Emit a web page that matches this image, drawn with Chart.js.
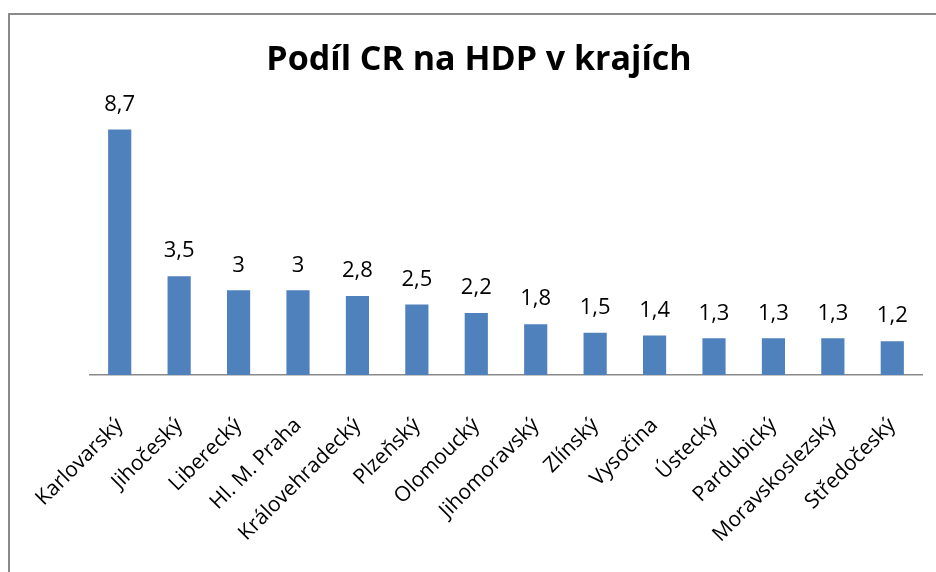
<!DOCTYPE html>
<html>
<head>
<meta charset="utf-8">
<script src="https://cdn.jsdelivr.net/npm/chart.js@4"></script>
<style>
  html, body { margin: 0; padding: 0; background: #fff; }
  #wrap { position: relative; width: 936px; height: 572px; overflow: hidden; }
  #frame { position: absolute; left: 8px; top: 13px; width: 960px; height: 600px;
           border-left: 2px solid #8a8a8a; border-top: 2px solid #8a8a8a; }
  canvas { position: absolute; left: 0; top: 0; }
</style>
</head>
<body>
<div id="wrap">
  <div id="frame"></div>
  <canvas id="bars" width="936" height="572"></canvas>
</div>
<script>
var regions = ["Karlovarský", "Jihočeský", "Liberecký", "Hl. M. Praha", "Královehradecký",
    "Plzeňský", "Olomoucký", "Jihomoravský", "Zlínský", "Vysočina", "Ústecký",
    "Pardubický", "Moravskoslezský", "Středočeský"];
var shares = [8.7, 3.5, 3, 3, 2.8, 2.5, 2.2, 1.8, 1.5, 1.4, 1.3, 1.3, 1.3, 1.2];
var chartTitle = "Podíl CR na HDP v krajích";

var fontFamily = "'Open Sans', 'Liberation Sans', sans-serif";

// value labels above bars, czech decimal comma
var valueLabels = {
    id: 'valueLabels',
    afterDatasetsDraw: function(chart) {
        var ctx = chart.ctx;
        var meta = chart.getDatasetMeta(0);
        ctx.save();
        ctx.font = '22px ' + fontFamily;
        ctx.fillStyle = '#000';
        ctx.textAlign = 'center';
        ctx.textBaseline = 'middle';
        meta.data.forEach(function(bar, i) {
            ctx.fillText(String(shares[i]).replace('.', ','), bar.x, bar.y - 25);
        });
        ctx.restore();
    }
};

var chart = new Chart(document.getElementById('bars'), {
    type: 'bar',
    data: {
        labels: regions,
        datasets: [{
            data: shares,
            backgroundColor: '#4f81bd',
            barPercentage: 0.39,
            categoryPercentage: 1
        }]
    },
    options: {
        responsive: false,
        animation: false,
        layout: { padding: { left: 22, right: 0, top: 0, bottom: 0 } },
        plugins: {
            legend: { display: false },
            tooltip: { enabled: false },
            title: {
                display: true,
                text: chartTitle,
                color: '#000',
                font: { family: fontFamily, size: 34, weight: 'bold', lineHeight: 1.2 },
                padding: { top: 40, bottom: 12 }
            }
        },
        scales: {
            x: {
                grid: { display: false },
                border: { display: true, color: '#8a8a8a', width: 1.5 },
                ticks: {
                    color: '#000',
                    font: { family: fontFamily, size: 21 },
                    maxRotation: 45,
                    minRotation: 45,
                    padding: 30,
                    autoSkip: false
                },
                afterFit: function(s) {
                    s.height = 197;
                    s.paddingLeft = 0;
                    s.paddingRight = 14;
                }
            },
            y: {
                min: 0,
                max: 10,
                grid: { display: false },
                border: { display: false },
                ticks: { display: false },
                afterFit: function(s) { s.width = 68; }
            }
        }
    },
    plugins: [valueLabels]
});
</script>
</body>
</html>
